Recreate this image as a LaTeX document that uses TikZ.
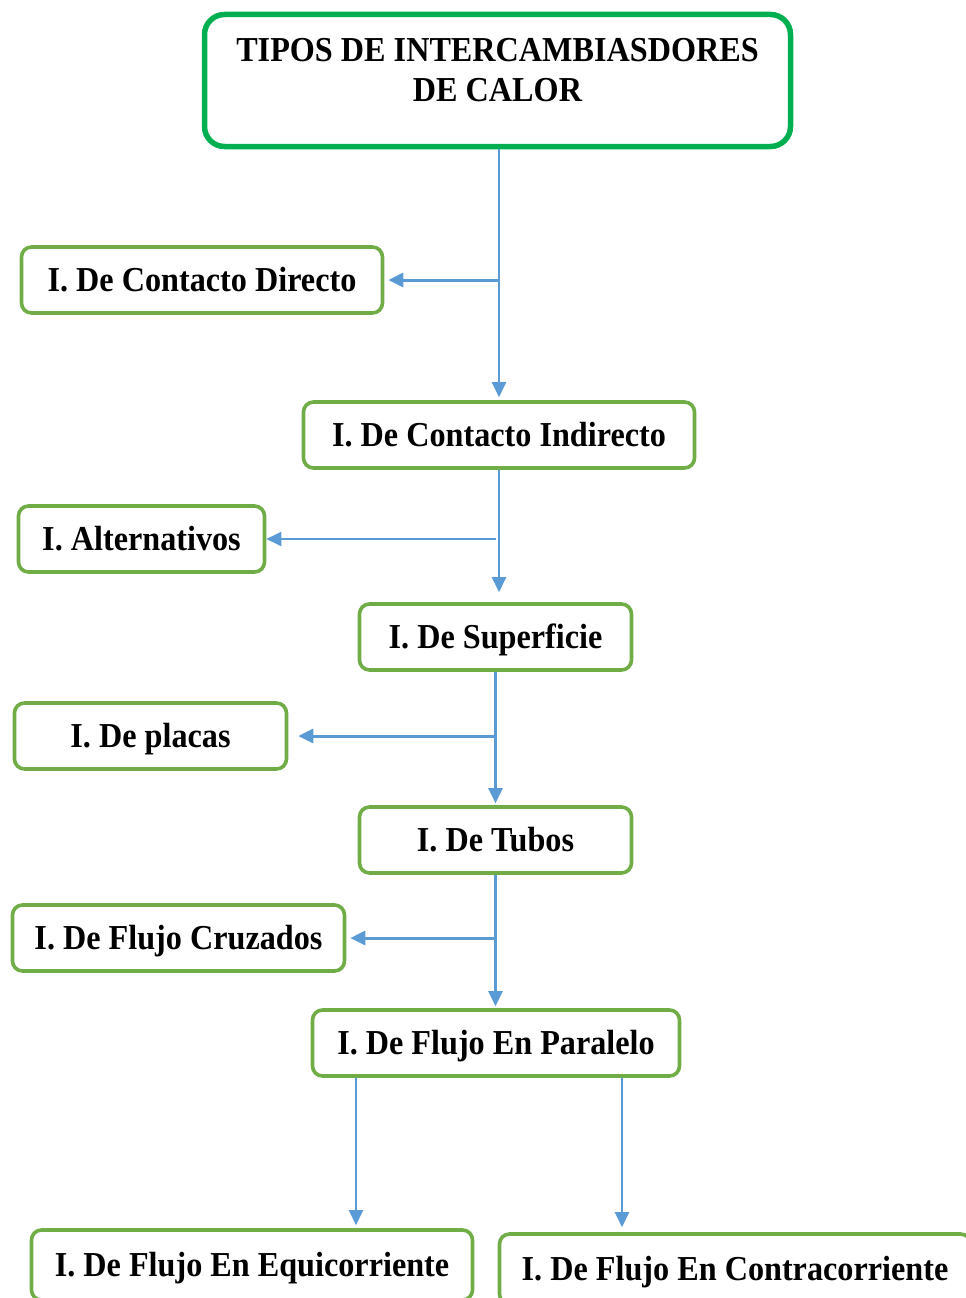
\documentclass[tikz,border=0pt]{standalone}
\usepackage{fontspec}
\setmainfont[FakeStretch=0.92]{Liberation Serif}
\usetikzlibrary{arrows.meta}
\definecolor{boxgreen}{HTML}{70AD47}
\definecolor{titlegreen}{HTML}{00B050}
\definecolor{linkblue}{HTML}{5B9BD5}

\begin{document}
\begin{tikzpicture}[x=1pt, y=-1pt,
    box/.style = {draw=boxgreen, line width=3.6pt, rounded corners=10pt, minimum height=66pt,
        inner sep=0pt, text height=23pt, text depth=0pt},
    titlebox/.style = {draw=titlegreen, line width=5.5pt, rounded corners=20pt,
        minimum width=586pt, minimum height=132pt},
    link/.style = {linkblue, line width=2.2pt, -{Triangle[length=15pt,width=14pt]}},
    font = \fontsize{35}{40}\selectfont\bfseries
    ]
    \useasboundingbox (0,0) rectangle (966,1298);
    \clip (0,0) rectangle (966,1298);

    % boxes
    \node (title) [titlebox] at (497.5,80.5) {};
    \node (titletxt) [align=center, inner sep=0pt] at (497.5,70.5)
        {TIPOS DE INTERCAMBIASDORES\\DE CALOR};

    \node (direct) [box, minimum width=361pt] at (202,280) {I. De Contacto Directo};
    \node (indirect) [box, minimum width=391pt] at (499,435) {I. De Contacto Indirecto};
    \node (altern) [box, minimum width=246pt] at (141.5,539) {I. Alternativos};
    \node (surface) [box, minimum width=272pt] at (495.5,637) {I. De Superficie};
    \node (plates) [box, minimum width=272pt] at (150.5,736) {I. De placas};
    \node (tubes) [box, minimum width=272pt] at (495.5,840) {I. De Tubos};
    \node (cross) [box, minimum width=332pt] at (178.5,938) {I. De Flujo Cruzados};
    \node (parallel) [box, minimum width=367pt] at (496,1043) {I. De Flujo En Paralelo};
    \node (equi) [box, minimum width=441pt, minimum height=70pt] at (252,1265)
        {I. De Flujo En Equicorriente};
    \node (counter) [box, minimum width=471pt, minimum height=70pt] at (735,1269)
        {I. De Flujo En Contracorriente};

    % main line
    \draw [link, shorten >=3pt] (title.south -| indirect.north) -- (indirect.north);
    \draw [link, shorten >=10pt] (indirect.south) -- (indirect.south |- surface.north);
    \draw [link, shorten >=2pt] (surface.south) -- (tubes.north);
    \draw [link, shorten >=2pt] (tubes.south) -- (tubes.south |- parallel.north);

    % branches
    \draw [link, line width=3pt, shorten >=4pt] (indirect.north |- direct.east) -- (direct.east);
    \draw [link] ([xshift=-3pt]indirect.south |- altern.east) -- (altern.east);
    \draw [link, line width=3pt, shorten >=10pt] (surface.south |- plates.east) -- (plates.east);
    \draw [link, line width=3pt, shorten >=4pt] (tubes.south |- cross.east) -- (cross.east);

    \draw [link, shorten >=3pt] ([xshift=-140pt]parallel.south)
        -- ([xshift=-140pt]parallel.south |- equi.north);
    \draw [link, shorten >=5pt] ([xshift=126pt]parallel.south)
        -- ([xshift=126pt]parallel.south |- counter.north);
\end{tikzpicture}
\end{document}
